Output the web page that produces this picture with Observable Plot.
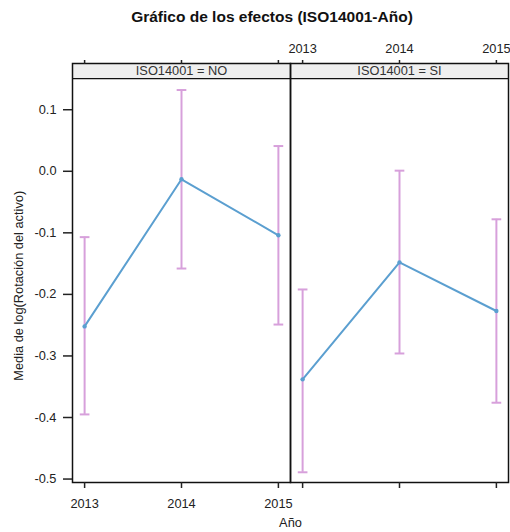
<!DOCTYPE html>
<html><head><meta charset="utf-8">
<script src="https://cdn.jsdelivr.net/npm/d3@7"></script>
<script src="https://cdn.jsdelivr.net/npm/@observablehq/plot@0.6"></script>
<style>
body{margin:0;background:#fff;font-family:"Liberation Sans",Arial,sans-serif}
#title{width:476px;padding-left:34px;height:30px;line-height:33px;text-align:center;font-weight:bold;font-size:15.5px;color:#111}
</style></head><body>
<div id="title">Gráfico de los efectos (ISO14001-Año)</div>
<div id="chart"></div>
<script>
const panels = ["NO", "SI"];
const years = [2013, 2014, 2015];
const meanNO  = [-0.252, -0.013, -0.104];
const lowerNO = [-0.395, -0.158, -0.249];
const upperNO = [-0.107,  0.132,  0.041];
const meanSI  = [-0.338, -0.148, -0.227];
const lowerSI = [-0.489, -0.296, -0.376];
const upperSI = [-0.192,  0.001, -0.078];
const yTicks = [0.1, 0.0, -0.1, -0.2, -0.3, -0.4, -0.5];

const rows = [
  ...years.map((y, i) => ({panel: "NO", year: y, mean: meanNO[i], lower: lowerNO[i], upper: upperNO[i]})),
  ...years.map((y, i) => ({panel: "SI", year: y, mean: meanSI[i], lower: lowerSI[i], upper: upperSI[i]}))
];

const X0 = 2012.875, X1 = 2015.125;
const Y0 = -0.5056, Y1 = 0.1751, YS = 0.1505;
const lineColor = "#5b9fd0";
const errColor = "#d7a0db";
const cap = 0.05;

const chart = Plot.plot({
  width: 510, height: 502,
  marginTop: 33, marginBottom: 50, marginLeft: 72, marginRight: 2,
  style: {fontFamily: "'Liberation Sans', Arial, sans-serif", fontSize: "12.8px", color: "#222", background: "white"},
  fx: {domain: panels, padding: 0, axis: null},
  x: {domain: [X0, X1], axis: null},
  y: {domain: [Y0, Y1], axis: null},
  marks: [
    Plot.rect(panels, {fx: d => d, x1: X0, x2: X1, y1: YS, y2: Y1, fill: "#efefef"}),
    Plot.link(panels, {fx: d => d, x1: X0, x2: X1, y1: YS, y2: YS, stroke: "#111", strokeWidth: 1.2}),
    Plot.text(panels, {fx: d => d, x: 2014, y: (YS + Y1) / 2, text: d => `ISO14001 = ${d}`, fill: "#333"}),
    Plot.ruleX(rows, {fx: "panel", x: "year", y1: "lower", y2: "upper", stroke: errColor, strokeWidth: 2}),
    Plot.link(rows, {fx: "panel", x1: d => d.year - cap, x2: d => d.year + cap, y1: "upper", y2: "upper", stroke: errColor, strokeWidth: 2}),
    Plot.link(rows, {fx: "panel", x1: d => d.year - cap, x2: d => d.year + cap, y1: "lower", y2: "lower", stroke: errColor, strokeWidth: 2}),
    Plot.line(rows, {fx: "panel", x: "year", y: "mean", stroke: lineColor, strokeWidth: 2}),
    Plot.dot(rows, {fx: "panel", x: "year", y: "mean", r: 2.2, fill: lineColor}),
    Plot.frame({stroke: "#111", strokeWidth: 1.5}),
    Plot.axisY({anchor: "left", ticks: yTicks, tickSize: 9, tickPadding: 7, label: null, tickFormat: d => d.toFixed(1), stroke: "#222", strokeWidth: 1.5}),
    Plot.axisX({anchor: "bottom", ticks: years, tickSize: 6, tickFormat: () => "", label: null, stroke: "#222", strokeWidth: 1.5}),
    Plot.axisX({anchor: "top", ticks: years, tickSize: 4, tickFormat: () => "", label: null, stroke: "#222", strokeWidth: 1.5}),
    Plot.text(years, {fx: () => "SI", x: d => d, y: Y1, dy: -15, text: d => String(d)}),
    Plot.text(years, {fx: () => "NO", x: d => d, y: Y0, dy: 21, text: d => String(d)}),
    Plot.text(["Media de log(Rotación del activo)"], {fx: () => "NO", x: X0, y: -0.186, dx: -54, rotate: -90, text: d => d}),
    Plot.text(["Año"], {fx: () => "NO", x: X1, y: Y0, dy: 40, text: d => d})
  ]
});
document.getElementById("chart").append(chart);
</script>
</body></html>
